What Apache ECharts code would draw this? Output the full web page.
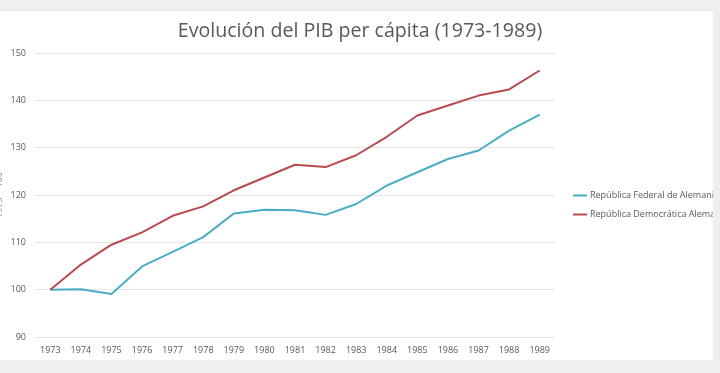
<!DOCTYPE html>
<html><head><meta charset="utf-8">
<script src="https://cdn.jsdelivr.net/npm/echarts@6/dist/echarts.min.js"></script>
<style>
html,body{margin:0;padding:0;background:#efefef;width:720px;height:373px;overflow:hidden;}
#frame{position:absolute;left:0;top:10px;width:713px;height:350px;background:#fff;overflow:hidden;border-top:1px solid #e4e4e4;box-sizing:border-box;}
#c{position:absolute;left:0;top:-1px;width:740px;height:350px;}
</style></head>
<body>
<div id="frame"><div id="c"></div></div>
<script>
var titleText = 'Evolución del PIB per cápita (1973-1989)';
var years = ['1973','1974','1975','1976','1977','1978','1979','1980','1981','1982','1983','1984','1985','1986','1987','1988','1989'];
var rfaName = 'República Federal de Alemania';
var rdaName = 'República Democrática Alemana';
var rfaValues = [100, 100.1, 99.1, 104.9, 108.0, 111.1, 116.1, 116.9, 116.8, 115.8, 118.1, 122.0, 124.8, 127.6, 129.4, 133.6, 137.0];
var rdaValues = [100, 105.3, 109.5, 112.1, 115.6, 117.6, 121.0, 123.7, 126.4, 125.9, 128.4, 132.3, 136.8, 138.9, 141.0, 142.3, 146.3];
var yTicks = {min: 90, max: 150, interval: 10};
var yName = '1973 = 100';

var chart = echarts.init(document.getElementById('c'), null, {renderer: 'canvas'});
var font = 'Open Sans';
chart.setOption({
  animation: false,
  backgroundColor: '#fff',
  title: {
    text: titleText, left: 355, top: 6, textAlign: 'center',
    textStyle: {fontFamily: font, fontSize: 19.6, fontWeight: 'normal', color: '#595959'}
  },
  grid: {left: 35, right: 185, top: 43, bottom: 23, containLabel: false, outerBoundsMode: 'none'},
  legend: {
    orient: 'vertical', left: 568, top: 176, itemWidth: 14, itemHeight: 2, itemGap: 10,
    icon: 'rect',
    textStyle: {fontFamily: font, fontSize: 9, color: '#595959', padding: [0, 0, 0, -2]},
    data: [rfaName, rdaName]
  },
  xAxis: {
    type: 'category', data: years, boundaryGap: true,
    axisLine: {show: false}, axisTick: {show: false},
    axisLabel: {fontFamily: font, fontSize: 9, color: '#595959', margin: 9}
  },
  yAxis: {
    type: 'value', min: yTicks.min, max: yTicks.max, interval: yTicks.interval,
    name: yName, nameLocation: 'middle', nameGap: 31, nameRotate: 90, nameMoveOverlap: false,
    nameTextStyle: {fontFamily: font, fontSize: 9, color: '#8a8a8a'},
    axisLine: {show: false}, axisTick: {show: false},
    axisLabel: {fontFamily: font, fontSize: 9, color: '#595959', margin: 9},
    splitLine: {lineStyle: {color: '#e6e6e6', width: 1}}
  },
  series: [
    {name: rfaName, type: 'line', data: rfaValues, symbol: 'none', lineStyle: {color: '#4BACC6', width: 2}, itemStyle: {color: '#4BACC6'}},
    {name: rdaName, type: 'line', data: rdaValues, symbol: 'none', lineStyle: {color: '#B94A4F', width: 2}, itemStyle: {color: '#B94A4F'}}
  ]
});
</script>
</body></html>
